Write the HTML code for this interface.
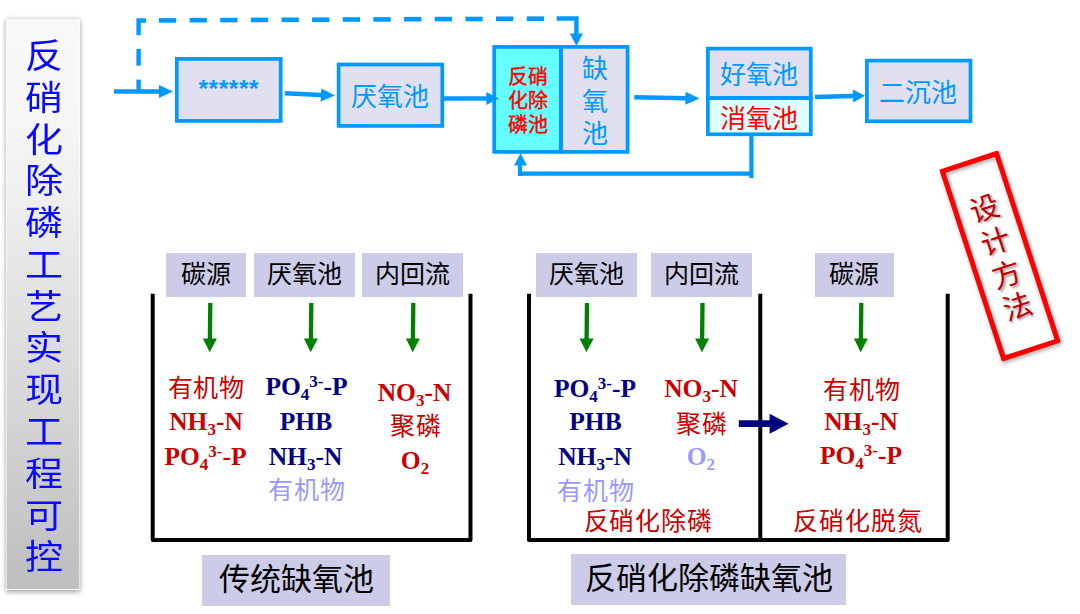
<!DOCTYPE html>
<html lang="zh-CN">
<head>
<meta charset="utf-8">
<style>
*{margin:0;padding:0;box-sizing:border-box}
html,body{width:1080px;height:614px;background:#fff;overflow:hidden}
body{position:relative;font-family:"Liberation Serif",serif}
#side{position:absolute;left:6px;top:18px;width:74px;height:572px;background:linear-gradient(#f8f8f8 0%,#f7f7f7 16%,#efefef 32%,#e6e6e6 43%,#d6d6d6 68%,#bfbfbf 98%,#bebebe 100%);box-shadow:0 2px 5px rgba(0,0,0,.38);border:1px solid rgba(255,255,255,.6)}
#side div{position:absolute;left:1px;width:72px;transform:scaleX(1.12);text-align:center;color:#0a0aff;font-size:34px;line-height:34px}
.t{position:absolute;text-align:center;white-space:nowrap;line-height:1}
.blue{color:#0099ff}
.red{color:#cc0000}
.lab{position:absolute;background:#ccccE8;color:#000;text-align:center;font-size:25px}
.f{font-weight:bold}
.f sub{font-size:17px;vertical-align:-5.4px;line-height:0}
.f sup{font-size:17px;vertical-align:8.5px;line-height:0}
svg{position:absolute;left:0;top:0}
</style>
</head>
<body>
<div id="side"><div style="top:21.0px">反</div><div style="top:62.8px">硝</div><div style="top:104.5px">化</div><div style="top:146.3px">除</div><div style="top:188.1px">磷</div><div style="top:229.9px">工</div><div style="top:271.6px">艺</div><div style="top:313.4px">实</div><div style="top:355.2px">现</div><div style="top:396.9px">工</div><div style="top:438.7px">程</div><div style="top:480.5px">可</div><div style="top:522.2px">控</div></div>
<svg width="1080" height="614" viewBox="0 0 1080 614">
<g fill="#0099ff"><path d="M136.4,18.2H146V22.8H140.8V35.2H136.4Z"/><rect x="136.4" y="48.9" width="4.4" height="16.8"/><rect x="136.4" y="79.6" width="4.4" height="11.4"/><rect x="158.9" y="18.1" width="17.3" height="4.6"/><rect x="189.6" y="17.9" width="17.3" height="4.6"/><rect x="220.2" y="17.8" width="17.3" height="4.6"/><rect x="250.9" y="17.6" width="17.3" height="4.6"/><rect x="281.5" y="17.5" width="17.3" height="4.6"/><rect x="312.1" y="17.4" width="17.3" height="4.6"/><rect x="342.8" y="17.2" width="17.3" height="4.6"/><rect x="373.4" y="17.1" width="17.3" height="4.6"/><rect x="404.1" y="16.9" width="17.3" height="4.6"/><rect x="434.7" y="16.8" width="17.3" height="4.6"/><rect x="465.4" y="16.7" width="17.3" height="4.6"/><rect x="496.0" y="16.5" width="17.3" height="4.6"/><rect x="526.7" y="16.4" width="17.3" height="4.6"/><path d="M556.7,16.2H578.6V34.5H574.2V20.8H556.7Z"/><polygon points="569.9,33.6 582.9,33.6 576.4,46.1"/></g>
<rect x="176.8" y="58.9" width="103.9" height="62.0" fill="#e0e0f0" stroke="#0099ff" stroke-width="3.7"/>
<rect x="338.6" y="64.5" width="103.7" height="61.4" fill="#e0e0f0" stroke="#0099ff" stroke-width="3.7"/>
<rect x="494.2" y="46.9" width="66.6" height="105.0" fill="#66ffff" stroke="#0099ff" stroke-width="3.7"/>
<rect x="561.1" y="46.9" width="66.5" height="105.0" fill="#e0e0f0" stroke="#0099ff" stroke-width="3.7"/>
<rect x="707.9" y="48.6" width="102.9" height="49.5" fill="#e0e0f0" stroke="#0099ff" stroke-width="3.7"/>
<rect x="707.9" y="98.1" width="102.9" height="36.2" fill="#e0ffff" stroke="#0099ff" stroke-width="3.7"/>
<rect x="866.9" y="60.6" width="103.6" height="60.7" fill="#e0e0f0" stroke="#0099ff" stroke-width="3.7"/>
<line x1="114.0" y1="91.5" x2="159.5" y2="91.5" stroke="#0099ff" stroke-width="4.5"/><polygon fill="#0099ff" points="173.0,91.5 159.0,98.0 159.0,85.0"/>
<line x1="284.8" y1="93.3" x2="321.5" y2="94.9" stroke="#0099ff" stroke-width="4.5"/><polygon fill="#0099ff" points="335.0,95.5 320.7,101.4 321.3,88.4"/>
<line x1="443.5" y1="98.5" x2="486.8" y2="98.5" stroke="#0099ff" stroke-width="4.5"/><polygon fill="#0099ff" points="498.8,98.5 486.3,105.0 486.3,92.0"/>
<line x1="634.3" y1="97.2" x2="685.9" y2="98.2" stroke="#0099ff" stroke-width="4.5"/><polygon fill="#0099ff" points="699.4,98.5 685.3,104.7 685.5,91.7"/>
<line x1="815.0" y1="97.0" x2="853.5" y2="96.1" stroke="#0099ff" stroke-width="4.5"/><polygon fill="#0099ff" points="865.0,95.8 853.2,102.6 852.8,89.6"/>
<path d="M751.4,135.5V178M753.3,173.6H518M520,176V164" stroke="#0099ff" stroke-width="4.2" fill="none"/>
<polygon fill="#0099ff" points="520.5,153.3 514,165.5 527,165.5"/>
<path d="M152.7,293.7V540H470.5V293.7" stroke="#000" stroke-width="4" fill="none" stroke-linejoin="round"/>
<path d="M529,293.7V540H947.7V293.7M760.3,293.7V540" stroke="#000" stroke-width="4" fill="none" stroke-linejoin="round"/>
<line x1="210.3" y1="303.0" x2="209.9" y2="339.0" stroke="#008000" stroke-width="4.3"/><polygon fill="#008000" points="209.7,352.3 202.9,338.4 216.9,338.6"/>
<line x1="311.3" y1="303.0" x2="310.9" y2="339.0" stroke="#008000" stroke-width="4.3"/><polygon fill="#008000" points="310.7,352.3 303.9,338.4 317.9,338.6"/>
<line x1="413.3" y1="303.0" x2="412.9" y2="339.0" stroke="#008000" stroke-width="4.3"/><polygon fill="#008000" points="412.7,352.3 405.9,338.4 419.9,338.6"/>
<line x1="587.0" y1="303.0" x2="586.6" y2="339.0" stroke="#008000" stroke-width="4.3"/><polygon fill="#008000" points="586.4,352.3 579.6,338.4 593.6,338.6"/>
<line x1="702.5" y1="303.0" x2="702.1" y2="339.0" stroke="#008000" stroke-width="4.3"/><polygon fill="#008000" points="701.9,352.3 695.1,338.4 709.1,338.6"/>
<line x1="861.3" y1="303.0" x2="860.9" y2="339.0" stroke="#008000" stroke-width="4.3"/><polygon fill="#008000" points="860.7,352.3 853.9,338.4 867.9,338.6"/>
<line x1="738.8" y1="423.7" x2="770.1" y2="423.7" stroke="#000080" stroke-width="6.7"/><polygon fill="#000080" points="788.6,423.7 769.6,433.7 769.6,413.7"/>
</svg>
<div class="lab" style="left:166px;top:252.7px;width:80.0px;height:44.3px;line-height:44px">碳源</div>
<div class="lab" style="left:253.7px;top:252.7px;width:101.0px;height:44.3px;line-height:44px">厌氧池</div>
<div class="lab" style="left:362px;top:252.7px;width:101.0px;height:44.3px;line-height:44px">内回流</div>
<div class="lab" style="left:535.8px;top:252.7px;width:101.2px;height:44.3px;line-height:44px">厌氧池</div>
<div class="lab" style="left:651.2px;top:252.7px;width:100.8px;height:44.3px;line-height:44px">内回流</div>
<div class="lab" style="left:814.5px;top:252.7px;width:79.7px;height:44.3px;line-height:44px">碳源</div>
<div class="lab" style="left:202.3px;top:554.5px;width:188px;height:51px;line-height:50px;font-size:31px">传统缺氧池</div>
<div class="lab" style="left:571.1px;top:554.4px;width:275px;height:51px;line-height:50px;font-size:31px">反硝化除磷缺氧池</div>
<div class="t blue" style="left:78.5px;top:73.2px;width:300px;font-size:24.5px;line-height:24.5px;font-family:'Liberation Sans',sans-serif;font-weight:bold;top:77px;letter-spacing:0.6px;text-indent:0.6px">******</div>
<div class="t blue" style="left:240px;top:84.5px;width:300px;font-size:26px;line-height:26px;">厌氧池</div>
<div class="t blue" style="left:768px;top:80.5px;width:300px;font-size:26px;line-height:26px;">二沉池</div>
<div class="t blue" style="left:609px;top:62.5px;width:300px;font-size:26px;line-height:26px;">好氧池</div>
<div class="t red" style="left:609px;top:106.5px;width:300px;font-size:26px;line-height:26px;color:#ff0000">消氧池</div>
<div class="t " style="left:378px;top:67.3px;width:300px;font-size:20px;line-height:20px;color:#ff0000;-webkit-text-stroke:0.45px #ff0000">反硝</div>
<div class="t " style="left:378px;top:91.2px;width:300px;font-size:20px;line-height:20px;color:#ff0000;-webkit-text-stroke:0.45px #ff0000">化除</div>
<div class="t " style="left:378px;top:115.1px;width:300px;font-size:20px;line-height:20px;color:#ff0000;-webkit-text-stroke:0.45px #ff0000">磷池</div>
<div class="t blue" style="left:445px;top:57.3px;width:300px;font-size:26px;line-height:26px;">缺</div>
<div class="t blue" style="left:445px;top:89.5px;width:300px;font-size:26px;line-height:26px;">氧</div>
<div class="t blue" style="left:445px;top:121.7px;width:300px;font-size:26px;line-height:26px;">池</div>
<div class="t" style="left:106px;top:376.0px;width:200px;font-size:25px;line-height:25px;color:#cc0000;letter-spacing:0.8px;text-indent:0.8px;">有机物</div>
<div class="t f" style="left:106px;top:407.0px;width:200px;font-size:25.5px;line-height:29.3px;color:#cc0000">NH<sub>3</sub>-N</div>
<div class="t f" style="left:105.5px;top:441.5px;width:200px;font-size:25.5px;line-height:29.3px;color:#cc0000">PO<sub>4</sub><sup>3-</sup>-P</div>
<div class="t f" style="left:206.5px;top:372.3px;width:200px;font-size:25.5px;line-height:29.3px;color:#000080">PO<sub>4</sub><sup>3-</sup>-P</div>
<div class="t f" style="left:206px;top:407.0px;width:200px;font-size:25.5px;line-height:29.3px;color:#000080">PHB</div>
<div class="t f" style="left:205.5px;top:441.5px;width:200px;font-size:25.5px;line-height:29.3px;color:#000080">NH<sub>3</sub>-N</div>
<div class="t" style="left:206.8px;top:478.0px;width:200px;font-size:25px;line-height:25px;color:#9999ff;letter-spacing:0.8px;text-indent:0.8px;">有机物</div>
<div class="t f" style="left:314.5px;top:378.1px;width:200px;font-size:25.5px;line-height:29.3px;color:#cc0000">NO<sub>3</sub>-N</div>
<div class="t" style="left:315.8px;top:413.5px;width:200px;font-size:25px;line-height:25px;color:#cc0000;letter-spacing:0.8px;text-indent:0.8px;">聚磷</div>
<div class="t f" style="left:315px;top:445.8px;width:200px;font-size:25.5px;line-height:29.3px;color:#cc0000">O<sub>2</sub></div>
<div class="t f" style="left:495px;top:373.7px;width:200px;font-size:25.5px;line-height:29.3px;color:#000080">PO<sub>4</sub><sup>3-</sup>-P</div>
<div class="t f" style="left:495.5px;top:406.8px;width:200px;font-size:25.5px;line-height:29.3px;color:#000080">PHB</div>
<div class="t f" style="left:495px;top:441.7px;width:200px;font-size:25.5px;line-height:29.3px;color:#000080">NH<sub>3</sub>-N</div>
<div class="t" style="left:495.4px;top:478.5px;width:200px;font-size:25px;line-height:25px;color:#9999ff;letter-spacing:0.8px;text-indent:0.8px;">有机物</div>
<div class="t f" style="left:601px;top:374.3px;width:200px;font-size:25.5px;line-height:29.3px;color:#cc0000">NO<sub>3</sub>-N</div>
<div class="t" style="left:601.6px;top:411.8px;width:200px;font-size:25px;line-height:25px;color:#cc0000;letter-spacing:0.8px;text-indent:0.8px;">聚磷</div>
<div class="t f" style="left:600.8px;top:442.3px;width:200px;font-size:25.5px;line-height:29.3px;color:#9999ff">O<sub>2</sub></div>
<div class="t" style="left:547.7px;top:508.5px;width:200px;font-size:25px;line-height:25px;color:#cc0000;letter-spacing:0.8px;text-indent:0.8px;">反硝化除磷</div>
<div class="t" style="left:761.8px;top:377.5px;width:200px;font-size:25px;line-height:25px;color:#cc0000;letter-spacing:0.8px;text-indent:0.8px;">有机物</div>
<div class="t f" style="left:761px;top:407.3px;width:200px;font-size:25.5px;line-height:29.3px;color:#cc0000">NH<sub>3</sub>-N</div>
<div class="t f" style="left:761px;top:441.1px;width:200px;font-size:25.5px;line-height:29.3px;color:#cc0000">PO<sub>4</sub><sup>3-</sup>-P</div>
<div class="t" style="left:757.5px;top:509.3px;width:200px;font-size:25px;line-height:25px;color:#cc0000;letter-spacing:0.8px;text-indent:0.8px;">反硝化脱氮</div>
<div style="position:absolute;left:0;top:0;width:1080px;height:614px;filter:drop-shadow(1.5px 2.5px 2px rgba(0,0,0,.35))"><div style="position:absolute;left:969.2px;top:154.8px;width:62px;height:201.5px;transform:rotate(-18.1deg);border:5.3px solid #ff0000;border-radius:1.5px"></div></div>
<div style="position:absolute;left:969.6px;top:156px;width:61.6px;height:201px;transform:rotate(-18.1deg);color:#c00000;font-size:29px;line-height:34.8px;text-align:center;padding-top:33px;text-shadow:1px 2px 2px rgba(0,0,0,.35)">设<br>计<br>方<br>法</div>
</body>
</html>
